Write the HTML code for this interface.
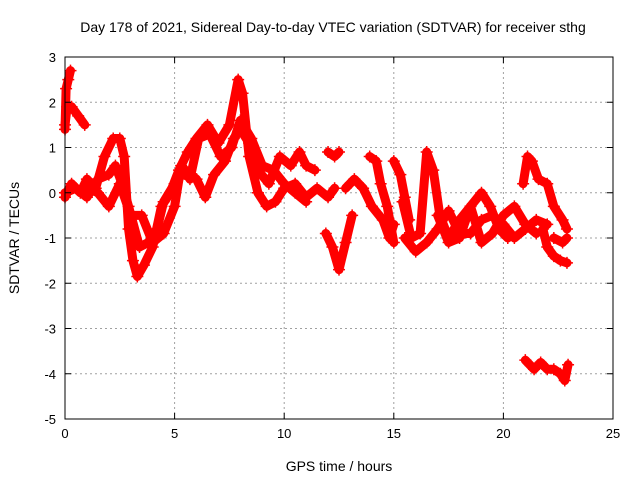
<!DOCTYPE html>
<html><head><meta charset="utf-8"><style>
body{margin:0;background:#fff}
svg{display:block;font-family:"Liberation Sans",sans-serif}
</style></head><body>
<svg id="chart" width="640" height="480">
<text x="333" y="32" font-size="14" text-anchor="middle">Day 178 of 2021, Sidereal Day-to-day VTEC variation (SDTVAR) for receiver sthg</text>
<text x="339" y="471" font-size="14" text-anchor="middle">GPS time / hours</text>
<text transform="translate(19,238) rotate(-90)" font-size="14" text-anchor="middle">SDTVAR / TECUs</text>
<g id="grid"></g><g id="series"></g>
<rect x="65" y="57" width="548" height="362" fill="none" stroke="#000"/>
<g id="ticks"></g>
</svg>
<script>
const xTicks=[0,5,10,15,20,25];
const yTicks=[3,2,1,0,-1,-2,-3,-4,-5];
const trackA1=[[0,1.4],[0.05,2.3],[0.15,2.5],[0.25,2.7]];
const trackA2=[[0,1.5],[0.1,1.9],[0.3,1.9],[0.6,1.7],[0.9,1.5]];
const trackB=[[0,-0.1],[0.3,0.2],[0.7,0],[1,0.3],[1.4,0.1],[1.8,0.8],[2.2,1.2],[2.5,1.2],[2.7,0.8],[2.9,-0.8],[3.1,-1.5],[3.3,-1.85],[3.6,-1.6],[4,-1.2],[4.4,-0.3],[4.8,0],[5.2,0.5],[5.6,0.9],[6,1.2],[6.5,1.5],[7,1.1],[7.5,1.5],[7.9,2.5],[8.1,2.2],[8.4,0.8],[8.8,0],[9.2,-0.3],[9.6,-0.2],[10,0.1],[10.5,0.2],[11,-0.1],[11.5,0.1],[12,-0.1],[12.3,0.1]];
const trackC=[[0,0],[0.5,0.1],[1,-0.1],[1.5,0.3],[2,0.4],[2.3,0.6],[2.6,0.2],[2.9,-0.3],[3.4,-1.2],[3.8,-1.1],[4.2,-0.8],[4.5,-0.2],[5,0.2],[5.5,0.5],[6,0.3],[6.4,-0.1],[6.8,0.4],[7.3,0.7],[7.7,1.2],[8,1.4],[8.4,1.1],[8.8,0.5],[9.3,0.2],[9.8,0.8],[10.3,0.6],[10.7,0.9],[11,0.6],[11.4,0.5]];
const trackD=[[1,0.1],[1.5,0],[2,-0.3],[2.5,0.2],[3,-0.5],[3.5,-0.5],[4,-1.1],[4.5,-0.9],[5,-0.3],[5.3,0.6],[5.7,0.3],[6.1,1.2],[6.6,1.3],[7.1,0.8],[7.6,1.0],[8,1.6],[8.5,1.2],[9,0.6],[9.5,0.5],[10,0.2],[10.5,0],[11,-0.2]];
const trackE=[[11.9,-0.9],[12.2,-1.2],[12.5,-1.7],[12.8,-1.1],[13.1,-0.5]];
const trackF=[[12,0.9],[12.3,0.8],[12.5,0.9]];
const trackG=[[12.8,0.1],[13.2,0.3],[13.6,0.1],[14,-0.3],[14.5,-0.6],[14.8,-1.0],[15,-0.7]];
const trackH=[[13.9,0.8],[14.2,0.7],[14.4,0.2],[14.7,-0.3],[15,-1.1]];
const trackI=[[15,0.7],[15.3,0.4],[15.5,-0.1],[15.7,-0.6]];
const trackJ=[[15.4,-0.2],[15.8,-1.0],[16.2,-0.9],[16.5,0.9],[16.8,0.5],[17.1,-0.5],[17.5,-1.0],[18,-0.6],[18.5,-0.3],[19,0],[19.4,-0.3],[19.8,-0.8],[20.2,-1.0]];
const trackK=[[15.5,-1.0],[16,-1.3],[16.5,-1.1],[17,-0.8],[17.5,-0.4],[18,-0.9],[18.5,-0.9],[19,-0.6],[19.5,-0.5],[20,-0.7],[20.5,-1.0],[21,-0.8],[21.5,-0.6],[22,-0.7]];
const trackL=[[17,-0.5],[17.5,-1.1],[18,-1.0],[18.5,-0.3],[19,-1.1],[19.5,-0.9],[20,-0.5],[20.5,-0.3],[21,-0.7],[21.5,-0.9]];
const trackM=[[20.9,0.2],[21.1,0.8],[21.3,0.7],[21.6,0.3],[22,0.2],[22.3,-0.3],[22.7,-0.6],[22.9,-0.8]];
const trackN=[[21.8,-0.8],[22,-1.2],[22.3,-1.4],[22.6,-1.5],[22.9,-1.55]];
const trackN2=[[22.3,-1.0],[22.7,-1.1],[22.9,-1.0]];
const trackO=[[21,-3.7],[21.4,-3.9],[21.7,-3.75],[22,-3.9],[22.3,-3.9],[22.6,-4.0],[22.8,-4.15],[22.95,-3.8]];
const tracks=[trackA1,trackA2,trackB,trackC,trackD,trackE,trackF,trackG,trackH,trackI,trackJ,trackK,trackL,trackM,trackN,trackN2,trackO];

const X0=65,X1=613,Y0=419,Y1=57;
const xs=v=>X0+(v-0)/25*(X1-X0);
const ys=v=>Y0-(v+5)/8*(Y0-Y1);
const NS="http://www.w3.org/2000/svg";
const grid=document.getElementById('grid'),ticks=document.getElementById('ticks'),ser=document.getElementById('series');
function mk(tag,attrs,parent){const e=document.createElementNS(NS,tag);for(const k in attrs)e.setAttribute(k,attrs[k]);parent.appendChild(e);return e;}
xTicks.forEach(t=>{
  const x=xs(t);
  if(t>0&&t<25){const g=mk('line',{x1:x,x2:x,y1:Y0,y2:Y1,stroke:'#a0a0a0','stroke-dasharray':'2,3'},grid);
  
  }
  const tk=mk('path',{d:`M${x},${Y0}v-6M${x},${Y1}v6`,stroke:'#000'},ticks);
  
  
  const l=mk('text',{x:x,y:Y0+19,'font-size':13,'text-anchor':'middle'},ticks);l.textContent=t;
  
  
});
yTicks.forEach(t=>{
  const y=ys(t);
  if(t<3&&t>-5){const g=mk('line',{x1:X0,x2:X1,y1:y,y2:y,stroke:'#a0a0a0','stroke-dasharray':'2,3'},grid);
  
  }
  const tk=mk('path',{d:`M${X0},${y}h6M${X1},${y}h-6`,stroke:'#000'},ticks);
  
  
  const l=mk('text',{x:X0-9,y:y+5,'font-size':13,'text-anchor':'end'},ticks);l.textContent=t;
  
  
});
tracks.forEach(tr=>{
  const pts=tr.map(p=>xs(p[0])+','+ys(p[1])).join(' ');
  const pl=mk('polyline',{points:pts,fill:'none',stroke:'#ff0000','stroke-width':9,'stroke-linejoin':'round','stroke-linecap':'round'},ser);
  
  
  tr.forEach(p=>{const m=mk('path',{d:`M${xs(p[0])-6},${ys(p[1])}h12M${xs(p[0])},${ys(p[1])-6}v12`,stroke:'#ff0000','stroke-width':1.5},ser);
    
    });
});
</script>
</body></html>
